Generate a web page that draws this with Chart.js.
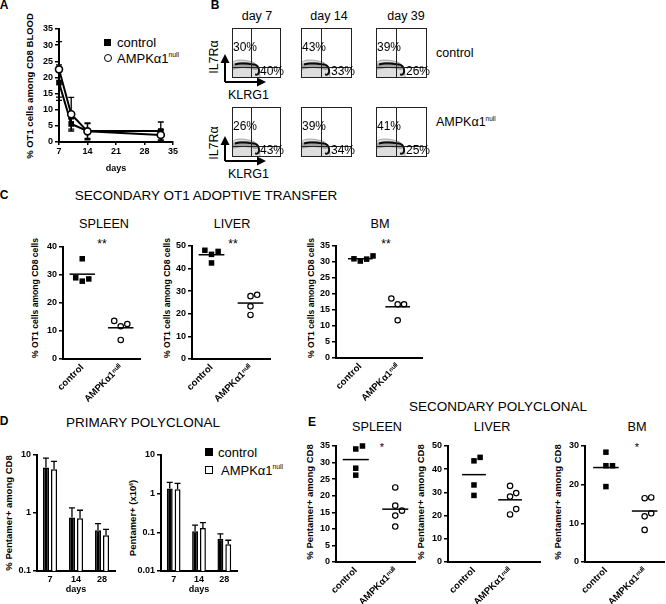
<!DOCTYPE html>
<html>
<head>
<meta charset="utf-8">
<title>AMPKa1 OT1 figure</title>
<script src="https://cdn.jsdelivr.net/npm/chart.js@4.4.1/dist/chart.umd.min.js"></script>
<style>
  html, body { margin: 0; padding: 0; background: #fff; }
  #fig { position: relative; width: 666px; height: 604px; overflow: hidden; background: #fff;
         font-family: "Liberation Sans", Arial, sans-serif; color: #000; }
  #fig canvas { position: absolute; }
  .t { position: absolute; white-space: nowrap; line-height: 1; transform: translate(-50%, -50%); }
  .l { transform: translate(0, -50%); }
  .v { transform: translate(-50%, -50%) rotate(-90deg); }
  .b { font-weight: bold; }
  .mk { position: absolute; box-sizing: border-box; }
  sup { font-size: 0.52em; vertical-align: 0.75em; line-height: 0; }
</style>
</head>
<body>
<div id="fig">
  <!-- panel letters -->
  <div class="t b" style="left:4px;top:5px;font-size:12px">A</div>
  <div class="t b" style="left:215px;top:5px;font-size:12px">B</div>
  <div class="t b" style="left:4px;top:195px;font-size:12px">C</div>
  <div class="t b" style="left:4px;top:421px;font-size:12px">D</div>
  <div class="t b" style="left:312px;top:422px;font-size:12px">E</div>

  <!-- axis titles -->
  <div class="t v b" style="left:30px;top:86px;font-size:9.5px">% OT1 cells among CD8 BLOOD</div>
  <div class="t v b" style="left:35px;top:298px;font-size:8.6px">% OT1 cells among CD8 cells</div>
  <div class="t v b" style="left:167px;top:298px;font-size:8.6px">% OT1 cells among CD8 cells</div>
  <div class="t v b" style="left:311px;top:298px;font-size:8.6px">% OT1 cells among CD8 cells</div>
  <div class="t v b" style="left:9px;top:513px;font-size:9.5px">% Pentamer+ among CD8</div>
  <div class="t v b" style="left:133px;top:518px;font-size:9.5px">Pentamer+ (x10<sup>6</sup>)</div>
  <div class="t v b" style="left:310px;top:502px;font-size:9.5px">% Pentamer+ among CD8</div>
  <div class="t v b" style="left:421px;top:502px;font-size:9.5px">% Pentamer+ among CD8</div>
  <div class="t v b" style="left:558px;top:502px;font-size:9.5px">% Pentamer+ among CD8</div>

  <!-- A legend -->
  <div class="mk" style="left:104px;top:39px;width:7px;height:7px;background:#000"></div>
  <div class="t l" style="left:117px;top:42px;font-size:13px">control</div>
  <div class="mk" style="left:103.5px;top:54px;width:8px;height:8px;border:1.6px solid #000;border-radius:50%"></div>
  <div class="t l" style="left:117px;top:58px;font-size:13px">AMPKα1<sup>null</sup></div>

  <!-- B labels -->
  <div class="t" style="left:257px;top:16px;font-size:12.5px">day 7</div>
  <div class="t" style="left:329px;top:16px;font-size:12.5px">day 14</div>
  <div class="t" style="left:406px;top:16px;font-size:12.5px">day 39</div>
  <div class="t l" style="left:436px;top:53px;font-size:12.5px">control</div>
  <div class="t l" style="left:436px;top:122px;font-size:12.5px">AMPKα1<sup>null</sup></div>
  <div class="t v" style="left:214px;top:57px;font-size:12.5px">IL7Rα</div>
  <div class="t v" style="left:214px;top:143px;font-size:12.5px">IL7Rα</div>
  <div class="t l" style="left:228px;top:95px;font-size:12.5px">KLRG1</div>
  <div class="t l" style="left:228px;top:174px;font-size:12.5px">KLRG1</div>
  <svg width="666" height="604" style="position:absolute;left:0;top:0">
    <g stroke="#000" stroke-width="2" fill="none">
      <path d="M225 82 V61 M225 82 H258"/>
      <path d="M225 161 V143 M225 161 H258"/>
    </g>
    <g fill="#000">
      <path d="M225 54 L220.5 63 L229.5 63 Z"/>
      <path d="M266 82 L257 77.5 L257 86.5 Z"/>
      <path d="M225 136 L220.5 145 L229.5 145 Z"/>
      <path d="M266 161 L257 156.5 L257 165.5 Z"/>
    </g>
  </svg>

  <!-- C titles -->
  <div class="t" style="left:206px;top:196px;font-size:13.5px">SECONDARY OT1 ADOPTIVE TRANSFER</div>
  <div class="t" style="left:104px;top:224px;font-size:12.7px">SPLEEN</div>
  <div class="t" style="left:232px;top:224px;font-size:12.7px">LIVER</div>
  <div class="t" style="left:380px;top:224px;font-size:12.7px">BM</div>
  <div class="t" style="left:102px;top:244px;font-size:12px">**</div>
  <div class="t" style="left:233px;top:244px;font-size:12px">**</div>
  <div class="t" style="left:386px;top:244px;font-size:12px">**</div>

  <!-- D titles and legend -->
  <div class="t" style="left:143px;top:423px;font-size:13.5px">PRIMARY POLYCLONAL</div>
  <div class="mk" style="left:205px;top:448px;width:8px;height:8px;background:#000"></div>
  <div class="t l" style="left:218px;top:452px;font-size:13px">control</div>
  <div class="mk" style="left:205px;top:466px;width:8px;height:8px;border:1.5px solid #000"></div>
  <div class="t l" style="left:221px;top:470px;font-size:13px">AMPKα1<sup>null</sup></div>

  <!-- E titles -->
  <div class="t" style="left:498px;top:407px;font-size:13.5px">SECONDARY POLYCLONAL</div>
  <div class="t" style="left:377px;top:427px;font-size:12.7px">SPLEEN</div>
  <div class="t" style="left:492px;top:427px;font-size:12.7px">LIVER</div>
  <div class="t" style="left:637px;top:427px;font-size:12.7px">BM</div>
  <div class="t" style="left:382px;top:447px;font-size:11px">*</div>
  <div class="t" style="left:637px;top:447px;font-size:11px">*</div>
</div>
<script>
// A: OT1 cells among CD8 in blood (mean, SEM)
const bloodDays = [7, 10, 14, 32];
const bloodControl = [18.4, 5.6, 3.4, 3.4];
const bloodControlSem = [5.5, 1.6, 2.3, 2.8];
const bloodNull = [22.5, 8.6, 3.3, 2.2];
const bloodNullSem = [8.6, 5.2, 2.6, 1.6];

// B: flow gates (% in quadrant) and population outline
const il7rHigh = [[30, 43, 39], [26, 39, 41]];
const klrg1High = [[40, 33, 26], [43, 34, 25]];
const gateKlrg1 = 39;
const gateIl7r = 22;
const smearKlrg1 = [1, 8, 18, 28, 38, 46, 52, 56, 57];
const smearIl7r = [31, 35, 36, 35, 33, 30, 24, 14, 2];
const coreKlrg1 = [4, 14, 24, 34, 42, 48];
const coreIl7r = [23, 25, 26, 25, 24, 22];
const contourKlrg1 = [6, 16, 26, 36, 44, 50, 54, 55, 52, 47];
const contourIl7r = [27, 29, 29, 28, 27, 25, 20, 12, 7, 7];

// C: secondary OT1 adoptive transfer
const groups = ['control', 'AMPKα1ⁿᵘˡˡ'];
const otSpleenControl = [35.8, 29.0, 27.8, 28.6];
const otSpleenNull = [12.5, 11.7, 13.6, 6.8];
const otLiverControl = [47.6, 48.1, 46.3, 42.5];
const otLiverNull = [27.8, 28.4, 23.3, 19.5];
const otBmControl = [31.0, 30.3, 31.9, 30.9];
const otBmNull = [16.8, 16.8, 18.6, 11.8];

// D: primary polyclonal (mean, SEM, log axes)
const primaryDays = ['7', '14', '28'];
const pctControl = [6.1, 0.84, 0.505];
const pctControlSem = [2.7, 0.39, 0.15];
const pctNull = [5.7, 0.815, 0.414];
const pctNullSem = [2.07, 0.3, 0.11];
const pctTicks = [0.1, 1, 10];
const numControl = [1.37, 0.107, 0.068];
const numControlSem = [0.58, 0.046, 0.023];
const numNull = [1.31, 0.13, 0.049];
const numNullSem = [0.53, 0.049, 0.0135];
const numTicks = [0.01, 0.1, 1, 10];

// E: secondary polyclonal
const polySpleenControl = [35.0, 34.1, 28.3, 26.2];
const polySpleenNull = [22.5, 17.0, 15.5, 14.0, 10.7];
const polyLiverControl = [43.6, 45.1, 33.2, 28.7];
const polyLiverNull = [29.7, 32.8, 28.2, 20.5, 22.8];
const polyBmControl = [28.4, 24.9, 24.9, 19.5];
const polyBmNull = [16.5, 16.7, 12.6, 11.8, 8.3];

Chart.defaults.font.family = '"Liberation Sans", "DejaVu Sans", Arial, sans-serif';
Chart.defaults.color = '#000';
Chart.defaults.animation = false;
Chart.defaults.events = [];
Chart.defaults.plugins.legend.display = false;
Chart.defaults.plugins.tooltip.enabled = false;

const fig = document.getElementById('fig');
const bold = size => ({ size: size, weight: 'bold' });
const mean = a => a.reduce((s, v) => s + v, 0) / a.length;

// box = plot area in page pixels [left, top, right, bottom]
function addChart(box, yW, xH, config) {
    const padT = 8, padR = 10;
    const canvas = document.createElement('canvas');
    canvas.width = box[2] - box[0] + yW + padR;
    canvas.height = box[3] - box[1] + padT + xH;
    canvas.style.left = (box[0] - yW) + 'px';
    canvas.style.top = (box[1] - padT) + 'px';
    fig.appendChild(canvas);
    const o = config.options;
    o.responsive = false;
    o.layout = { padding: { top: padT, right: padR, left: 0, bottom: 0 } };
    if (o.scales.x.display !== false) o.scales.x.afterFit = s => { s.height = xH; };
    if (o.scales.y.display !== false) o.scales.y.afterFit = s => { s.width = yW; };
    return new Chart(canvas, config);
}

function yGrid() {
    return { display: true, drawOnChartArea: false, drawTicks: true, tickLength: 4, color: '#000', lineWidth: 1.5 };
}
const axisLine = { display: true, color: '#000', width: 2 };

// error bars from dataset.errorBars (both ways, or up only)
const errorBarPlugin = {
    id: 'errorBars',
    beforeDatasetsDraw(chart) {
        const ctx = chart.ctx;
        const y = chart.scales.y;
        chart.data.datasets.forEach((ds, di) => {
            if (!ds.errorBars) return;
            const meta = chart.getDatasetMeta(di);
            ctx.save();
            ctx.strokeStyle = '#000';
            ctx.lineWidth = 1.3;
            meta.data.forEach((el, i) => {
                const d = ds.data[i];
                const v = typeof d === 'object' ? d.y : d;
                const e = ds.errorBars[i];
                const top = y.getPixelForValue(v + e);
                const bot = ds.errorUp ? y.getPixelForValue(v) : y.getPixelForValue(Math.max(v - e, 0));
                ctx.beginPath();
                ctx.moveTo(el.x, top); ctx.lineTo(el.x, bot);
                ctx.moveTo(el.x - 3, top); ctx.lineTo(el.x + 3, top);
                if (!ds.errorUp) { ctx.moveTo(el.x - 3, bot); ctx.lineTo(el.x + 3, bot); }
                ctx.stroke();
            });
            ctx.restore();
        });
    }
};

// spread points of close value sideways, like a scatter dot plot
function swarm(values, center, step, gap) {
    const order = values.map((v, i) => i).sort((a, b) => values[a] - values[b]);
    const used = [];
    const pts = [];
    order.forEach(i => {
        const v = values[i];
        const k = [0, 1, -1, 2, -2].find(k => !used.some(u => u.k === k && Math.abs(u.v - v) < gap));
        used.push({ k: k, v: v });
        pts.push({ x: center + k * step, y: v });
    });
    return pts;
}

function dotPlot(box, yW, yMax, yStep, control, knockout, xMin, xMax) {
    const gap = 6.5 * yMax / (box[3] - box[1]);
    const meanLine = (c, m) => ({
        data: [{ x: c - 0.33, y: m }, { x: c + 0.33, y: m }],
        showLine: true, pointRadius: 0, borderColor: '#000', borderWidth: 1.5, clip: false
    });
    return addChart(box, yW, 45, {
        type: 'scatter',
        data: {
            datasets: [
                meanLine(0.5, mean(control)),
                meanLine(1.5, mean(knockout)),
                { data: swarm(control, 0.5, 0.17, gap), pointStyle: 'rect', pointRadius: 3.9,
                  backgroundColor: '#000', borderColor: '#000', borderWidth: 0, clip: false },
                { data: swarm(knockout, 1.5, 0.17, gap), pointStyle: 'circle', pointRadius: 2.7,
                  backgroundColor: '#fff', borderColor: '#000', borderWidth: 1.2, clip: false }
            ]
        },
        options: {
            scales: {
                x: {
                    type: 'linear', min: xMin, max: xMax,
                    afterBuildTicks: s => { s.ticks = [{ value: 0.5 }, { value: 1.5 }]; },
                    ticks: { callback: (v, i) => groups[i], autoSkip: false, minRotation: 45, maxRotation: 45,
                             font: bold(9.5), padding: 3 },
                    grid: { display: false, drawTicks: false },
                    border: axisLine
                },
                y: {
                    min: 0, max: yMax,
                    ticks: { stepSize: yStep, font: bold(9), padding: 2 },
                    grid: yGrid(),
                    border: axisLine
                }
            }
        }
    });
}

function barPlot(box, yMin, yTicks, control, controlSem, knockout, knockoutSem) {
    return addChart(box, 34, 24, {
        type: 'bar',
        data: {
            labels: primaryDays,
            datasets: [
                { data: control, errorBars: controlSem, errorUp: true, backgroundColor: '#000', borderColor: '#000',
                  borderWidth: 1.5, barPercentage: 0.75, categoryPercentage: 0.62 },
                { data: knockout, errorBars: knockoutSem, errorUp: true, backgroundColor: '#fff', borderColor: '#000',
                  borderWidth: 1.5, barPercentage: 0.75, categoryPercentage: 0.62 }
            ]
        },
        options: {
            scales: {
                x: {
                    grid: { display: false, drawTicks: false },
                    border: axisLine,
                    ticks: { font: bold(9), padding: 3, maxRotation: 0 },
                    title: { display: true, text: 'days', font: bold(9), padding: 0 }
                },
                y: {
                    type: 'logarithmic', min: yMin, max: 10,
                    afterBuildTicks: s => { s.ticks = yTicks.map(v => ({ value: v })); },
                    ticks: { callback: v => String(v), font: bold(9), padding: 2 },
                    grid: yGrid(),
                    border: axisLine
                }
            }
        },
        plugins: [errorBarPlugin]
    });
}

const flowGatePlugin = {
    id: 'flowGates',
    afterDatasetsDraw(chart, args, opts) {
        const { ctx, chartArea: a, scales: { x, y } } = chart;
        const gx = Math.round(x.getPixelForValue(gateKlrg1)) + 0.5;
        const gy = Math.round(y.getPixelForValue(gateIl7r)) + 0.5;
        ctx.save();
        ctx.strokeStyle = '#222';
        ctx.lineWidth = 1;
        ctx.strokeRect(a.left + 0.5, a.top + 0.5, a.width - 1, a.height - 1);
        ctx.beginPath();
        ctx.moveTo(gx, a.top); ctx.lineTo(gx, a.bottom);
        ctx.moveTo(a.left, gy); ctx.lineTo(a.right, gy);
        ctx.stroke();
        ctx.fillStyle = '#000';
        ctx.font = '12px "Liberation Sans", Arial, sans-serif';
        ctx.textBaseline = 'middle';
        ctx.textAlign = 'left';
        ctx.fillText(opts.upper + '%', a.left + 1, a.top + 20);
        ctx.textAlign = 'right';
        ctx.fillText(opts.lower + '%', a.right + 3, a.bottom - 6);
        ctx.restore();
    }
};

const toPts = (xs, ys) => xs.map((v, i) => ({ x: v, y: ys[i] }));

function flowPlot(box, upper, lower) {
    return addChart(box, 0, 0, {
        type: 'scatter',
        data: {
            datasets: [
                { data: toPts(smearKlrg1, smearIl7r), showLine: true, tension: 0.4, fill: 'origin',
                  backgroundColor: 'rgba(0,0,0,0.13)', borderColor: 'rgba(0,0,0,0.3)', borderWidth: 1, pointRadius: 0 },
                { data: toPts(coreKlrg1, coreIl7r), showLine: true, tension: 0.4,
                  borderColor: 'rgba(0,0,0,0.28)', borderWidth: 6, borderCapStyle: 'round', pointRadius: 0 },
                { data: toPts(contourKlrg1, contourIl7r), showLine: true, tension: 0.4,
                  borderColor: '#111', borderWidth: 2, pointRadius: 0 }
            ]
        },
        options: {
            scales: { x: { display: false, min: 0, max: 100 }, y: { display: false, min: 0, max: 100 } },
            plugins: { flowGates: { upper: upper, lower: lower } }
        },
        plugins: [flowGatePlugin]
    });
}

// A
addChart([59, 29, 173, 142], 35, 32, {
    type: 'line',
    data: {
        datasets: [
            { data: toPts(bloodDays, bloodNull), errorBars: bloodNullSem,
              borderColor: '#000', borderWidth: 2, pointStyle: 'circle', pointRadius: 3.5,
              pointBackgroundColor: '#fff', pointBorderColor: '#000', pointBorderWidth: 1.6, clip: false },
            { data: toPts(bloodDays, bloodControl), errorBars: bloodControlSem,
              borderColor: '#000', borderWidth: 2, pointStyle: 'rect', pointRadius: 4,
              pointBackgroundColor: '#000', pointBorderColor: '#000', pointBorderWidth: 0, clip: false }
        ]
    },
    options: {
        scales: {
            x: {
                type: 'linear', min: 7, max: 35,
                ticks: { stepSize: 7, font: bold(9), padding: 1 },
                grid: { display: true, drawOnChartArea: false, drawTicks: true, tickLength: 3, color: '#000', lineWidth: 1.5 },
                border: axisLine,
                title: { display: true, text: 'days', font: bold(9), padding: 0 }
            },
            y: {
                min: 0, max: 35,
                ticks: { stepSize: 5, font: bold(9), padding: 2 },
                grid: yGrid(),
                border: axisLine
            }
        }
    },
    plugins: [errorBarPlugin]
});

// B
const flowCols = [[232, 281], [301, 352], [376, 427]];
const flowRowsY = [[28, 78], [107, 157]];
flowRowsY.forEach((r, ri) => {
    flowCols.forEach((c, ci) => {
        flowPlot([c[0], r[0], c[1], r[1]], il7rHigh[ri][ci], klrg1High[ri][ci]);
    });
});

// C
dotPlot([63, 247, 140, 359], 33, 40, 10, otSpleenControl, otSpleenNull, 0, 2);
dotPlot([192, 246, 270, 359], 30, 50, 10, otLiverControl, otLiverNull, 0, 2);
dotPlot([336, 246, 422, 358], 30, 35, 5, otBmControl, otBmNull, -0.15, 2.15);

// D
barPlot([37, 455, 115, 571], 0.1, pctTicks, pctControl, pctControlSem, pctNull, pctNullSem);
barPlot([161, 455, 237, 571], 0.01, numTicks, numControl, numControlSem, numNull, numNullSem);

// E
dotPlot([336, 446, 415, 562], 32, 35, 5, polySpleenControl, polySpleenNull, 0, 2);
dotPlot([448, 446, 540, 562], 34, 50, 10, polyLiverControl, polyLiverNull, -0.22, 2.33);
dotPlot([585, 446, 664, 562], 33, 30, 10, polyBmControl, polyBmNull, -0.04, 2.0);
</script>
</body>
</html>
